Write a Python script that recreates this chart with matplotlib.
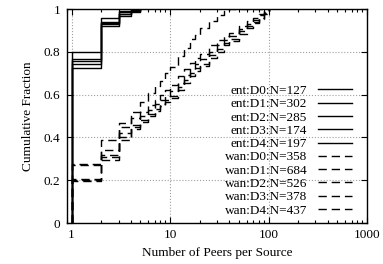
import matplotlib
matplotlib.use("Agg")
import matplotlib.pyplot as plt
from matplotlib.ticker import FixedLocator, FuncFormatter

plt.rcParams['font.family'] = ['Liberation Serif', 'DejaVu Serif']
plt.rcParams['font.size'] = 9.5

# ---- data ----
ent_labels = ["ent:D0:N=127", "ent:D1:N=302", "ent:D2:N=285", "ent:D3:N=174", "ent:D4:N=197"]
ent_x = [1, 2, 3, 4, 5]
ent_y = [
    [0.798, 0.957, 0.991, 0.998, 1.0],
    [0.765, 0.941, 0.985, 0.995, 1.0],
    [0.757, 0.936, 0.977, 0.990, 1.0],
    [0.741, 0.930, 0.969, 0.985, 1.0],
    [0.726, 0.922, 0.975, 0.990, 1.0],
]

wan_labels = ["wan:D0:N=358", "wan:D1:N=684", "wan:D2:N=526", "wan:D3:N=378", "wan:D4:N=437"]
wan_x = [1, 2, 3, 4, 5, 6, 7, 8, 9, 10, 12, 14, 16, 18, 20, 25, 30, 35, 40,
         50, 60, 70, 80, 90, 100]
wan_y = [
    [0.275, 0.388, 0.467, 0.520, 0.565, 0.607, 0.640, 0.665, 0.700, 0.730, 0.780, 0.820,
     0.860, 0.880, 0.910, 0.945, 0.970, 0.990, 1.000, 1.000, 1.000, 1.000, 1.000, 1.000, 1.000],
    [0.270, 0.340, 0.450, 0.490, 0.520, 0.550, 0.575, 0.600, 0.620, 0.645, 0.685, 0.720,
     0.750, 0.770, 0.790, 0.830, 0.855, 0.875, 0.890, 0.920, 0.945, 0.960, 0.975, 0.990, 1.000],
    [0.205, 0.318, 0.420, 0.460, 0.500, 0.530, 0.555, 0.575, 0.595, 0.615, 0.655, 0.690,
     0.720, 0.745, 0.765, 0.800, 0.830, 0.855, 0.875, 0.905, 0.930, 0.950, 0.970, 0.985, 1.000],
    [0.200, 0.310, 0.400, 0.450, 0.480, 0.510, 0.535, 0.555, 0.575, 0.595, 0.635, 0.670,
     0.700, 0.725, 0.745, 0.785, 0.815, 0.840, 0.860, 0.895, 0.920, 0.940, 0.960, 0.980, 1.000],
    [0.198, 0.294, 0.388, 0.440, 0.470, 0.500, 0.525, 0.545, 0.565, 0.585, 0.620, 0.655,
     0.685, 0.710, 0.735, 0.770, 0.800, 0.830, 0.850, 0.885, 0.910, 0.935, 0.955, 0.975, 1.000],
]

x_ticks = [1, 10, 100, 1000]
y_ticks = [0, 0.2, 0.4, 0.6, 0.8, 1]

# ---- figure ----
fig = plt.figure(figsize=(3.83, 2.64), dpi=100)
ax = fig.add_axes([67 / 383, 1 - 223 / 264, 300 / 383, 214 / 264])

for lab, ys in zip(ent_labels, ent_y):
    ax.plot([ent_x[0]] + ent_x, [0] + ys, drawstyle='steps-post', color='black',
            lw=1.0, label=lab)
for lab, ys in zip(wan_labels, wan_y):
    ax.plot([wan_x[0]] + wan_x, [0] + ys, drawstyle='steps-post', color='black',
            lw=1.0, dashes=(6, 3.5), label=lab)

ax.set_xscale('log')
ax.set_xlim(0.9, 1000)
ax.set_ylim(0, 1)
ax.xaxis.set_major_locator(FixedLocator(x_ticks))
ax.xaxis.set_major_formatter(FuncFormatter(lambda v, p: f"{v:g}"))
ax.yaxis.set_major_locator(FixedLocator(y_ticks))
ax.yaxis.set_major_formatter(FuncFormatter(lambda v, p: f"{v:g}"))
ax.tick_params(which='both', direction='in', top=True, right=True, width=0.8)
ax.tick_params(which='major', length=4)
ax.tick_params(which='minor', length=2)
ax.tick_params(axis='y', pad=5)
ax.tick_params(axis='x', pad=4)
ax.grid(True, which='major', color='#a0a0a0', linestyle=':', lw=0.8)
for s in ax.spines.values():
    s.set_linewidth(1.0)

ax.set_xlabel("Number of Peers per Source")
ax.set_ylabel("Cumulative Fraction")
ax.xaxis.set_label_coords(0.5, -0.11)
ax.yaxis.set_label_coords(-0.11, 0.5)

ax.legend(loc='lower right', bbox_to_anchor=(0.95, 0.03), markerfirst=False,
          frameon=False, handlelength=2.6, handletextpad=0.8, labelspacing=0.08,
          borderpad=0, borderaxespad=0, fontsize=9.5)

fig.savefig("out.png", dpi=100)
